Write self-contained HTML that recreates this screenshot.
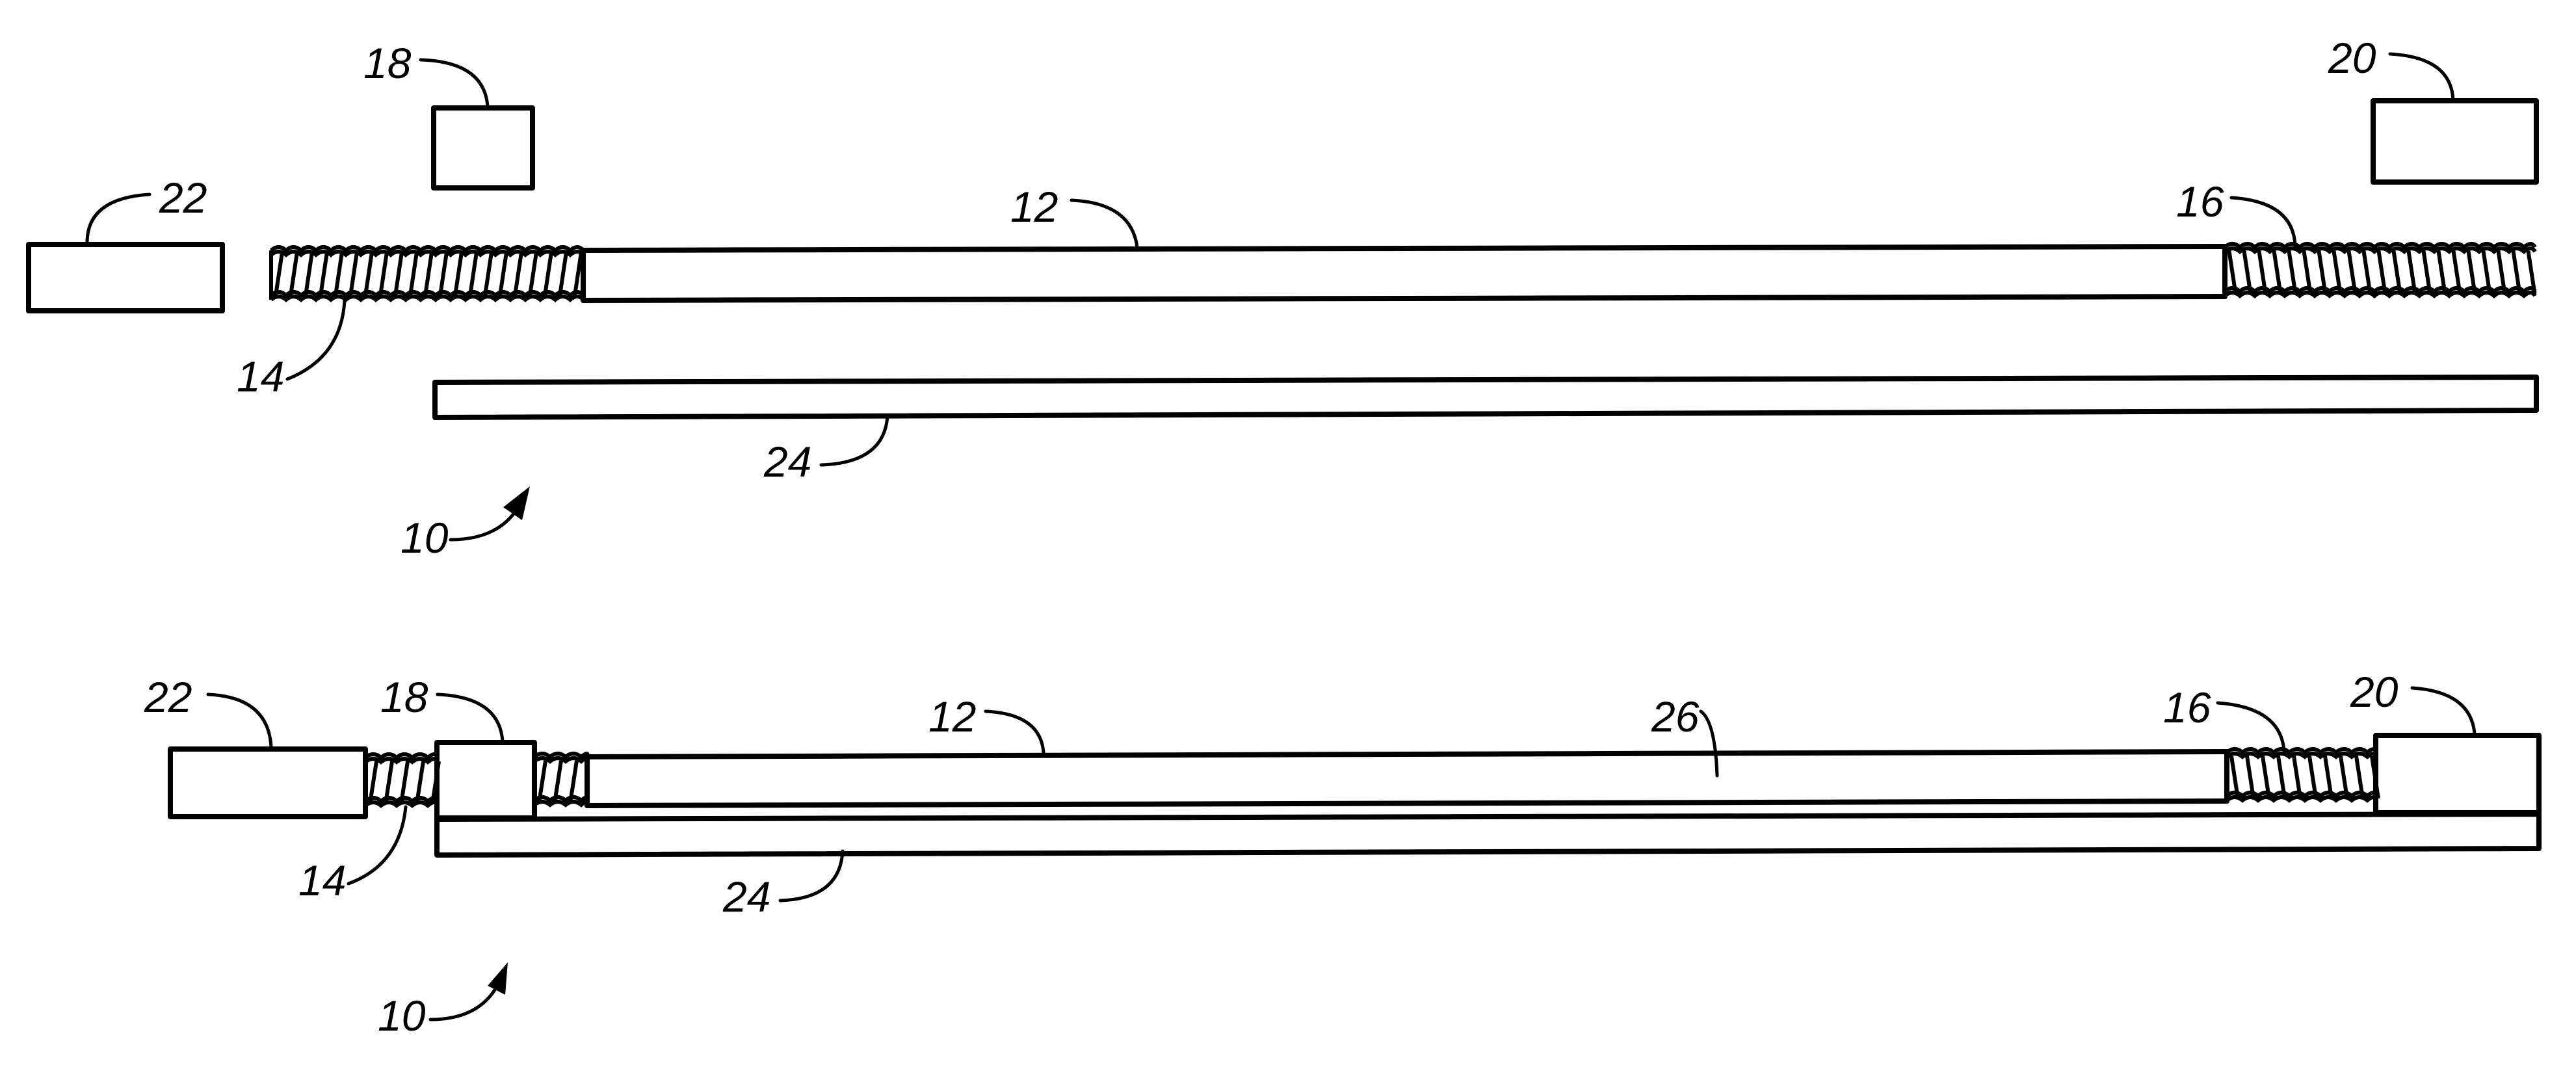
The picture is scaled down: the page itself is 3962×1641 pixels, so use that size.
<!DOCTYPE html>
<html><head><meta charset="utf-8"><style>
html,body{margin:0;padding:0;background:#fff;}
svg{display:block;}
text{font-family:"Liberation Sans",sans-serif;font-style:italic;font-size:66px;fill:#000;}
</style></head><body>
<svg id="s" width="3962" height="1641" viewBox="0 0 3962 1641" xmlns="http://www.w3.org/2000/svg">
<g fill="none" stroke="#000" stroke-width="8" stroke-linejoin="round" stroke-linecap="round">
<rect x="44" y="376" width="298" height="102" fill="#fff"/>
<rect x="667" y="166" width="152" height="123" fill="#fff"/>
<rect x="3650" y="155" width="251" height="125" fill="#fff"/>
<polyline points="897,385 3422,379"/>
<polyline points="897,462 3422,456"/>
<line x1="897" y1="385" x2="897" y2="462"/>
<line x1="3422" y1="379" x2="3422" y2="456"/>
<polygon points="669,588 3901,580 3901,631 669,642" fill="#fff"/>
<rect x="262" y="1152" width="300" height="104" fill="#fff"/>
<polygon points="672,1260 3905,1252 3905,1305 672,1315" fill="#fff"/>
<rect x="672" y="1142" width="150" height="116" fill="#fff"/>
<rect x="3654" y="1131" width="251" height="119" fill="#fff"/>
<polyline points="903,1164 3425,1156"/>
<polyline points="903,1239 3425,1232"/>
<line x1="903" y1="1164" x2="903" y2="1239"/>
<line x1="3425" y1="1156" x2="3425" y2="1232"/>
<g stroke-width="5">
<path d="M230,299 Q134,305 134,373"/>
<path d="M647,92 Q745,95 750,164"/>
<path d="M3676,83 Q3770,88 3773,154"/>
<path d="M3432,304 Q3528,310 3530,379"/>
<path d="M1648,308 Q1740,312 1749,380"/>
<path d="M442,583 Q525,550 530,462"/>
<path d="M1263,715 Q1360,712 1365,640"/>
<path d="M693,830 Q770,830 800,775"/>
<path d="M320,1068 Q412,1072 417,1148"/>
<path d="M673,1068 Q768,1072 773,1140"/>
<path d="M536,1359 Q615,1330 624,1241"/>
<path d="M1200,1385 Q1292,1382 1296,1309"/>
<path d="M1516,1094 Q1600,1098 1605,1157"/>
<path d="M2616,1094 Q2638,1110 2641,1193"/>
<path d="M3411,1081 Q3508,1088 3513,1155"/>
<path d="M3710,1058 Q3800,1064 3806,1128"/>
<path d="M662,1568 Q740,1568 768,1510"/>
</g>
</g>
<polygon points="815,748 774,780 803,800" fill="#000"/>
<polygon points="781,1480 750,1516 777,1530" fill="#000"/>
<g id="thr" fill="none" stroke="#000" stroke-width="6"></g>
<text x="245" y="327">22</text>
<text x="559" y="120">18</text>
<text x="3581" y="112">20</text>
<text x="1554" y="341">12</text>
<text x="3347" y="333">16</text>
<text x="364" y="602">14</text>
<text x="1175" y="733">24</text>
<text x="616" y="850">10</text>
<text x="222" y="1095">22</text>
<text x="585" y="1095">18</text>
<text x="1428" y="1125">12</text>
<text x="2540" y="1125">26</text>
<text x="3327" y="1111">16</text>
<text x="3615" y="1087">20</text>
<text x="459" y="1377">14</text>
<text x="1112" y="1402">24</text>
<text x="581" y="1585">10</text>
</svg>
<script>
var g=document.getElementById('thr');
function P(d){var p=document.createElementNS('http://www.w3.org/2000/svg','path');p.setAttribute('d',d);g.appendChild(p);}
function wave(x1,x2,y,p){var d='M'+x1+','+y;for(var x=x1;x<x2-0.1;x+=p){var e=Math.min(x+p,x2);d+=' Q'+(x+p/2)+','+(y-10)+' '+e+','+y;}return d;}
function thread(x1,x2,yt,yb,p,sl,cap){
 P(wave(x1,x2,yt,p));P(wave(x1,x2,yt+7,p));
 P(wave(x1,x2,yb,p));P(wave(x1,x2,yb+7,p));
 for(var x=x1+p/2;x<x2;x+=p){P('M'+(x+sl)+','+(yt+6)+' L'+(x-sl)+','+(yb+4));}
 if(cap)P('M'+x1+','+yt+' L'+x1+','+(yb+7));
}
thread(417,897,385,454,23,5,true);
thread(3422,3899,380,448,23,-5,true);
thread(562,672,1165,1232,24,5,false);
thread(822,903,1164,1231,24,5,false);
thread(3425,3654,1157,1224,24,-5,false);
</script>
</body></html>
